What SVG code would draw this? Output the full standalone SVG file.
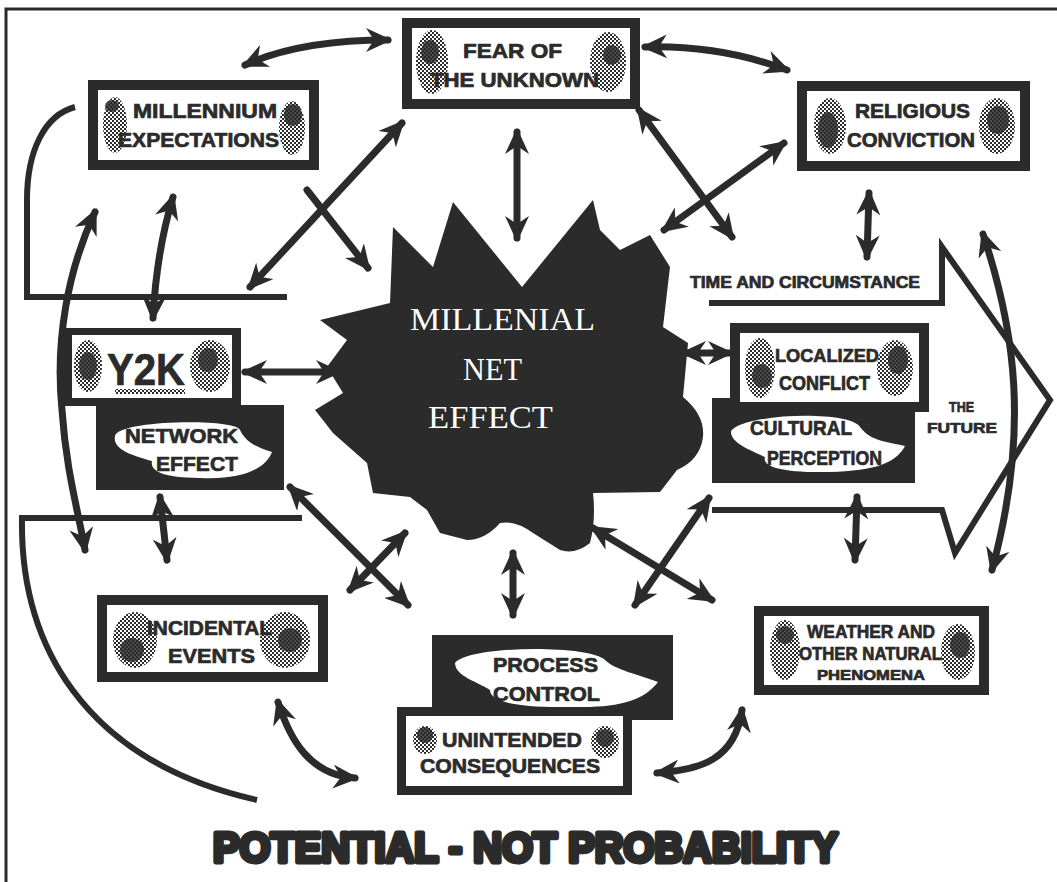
<svg xmlns="http://www.w3.org/2000/svg" width="1057" height="882" viewBox="0 0 1057 882">
<style>
.frame{fill:#2b2b2b}
.inner{fill:#fff}
.dark{fill:#2b2b2b}
.blob{fill:#fff}
.t{font-family:"Liberation Sans",Arial,sans-serif;font-weight:bold;fill:#2b2b2b;stroke:#2b2b2b;stroke-width:.7;stroke-linejoin:round}
.cap{stroke-width:5}
.bt{font-family:"Liberation Serif","Times New Roman",serif;fill:#fff}
.c{fill:none;stroke:#2b2b2b;stroke-width:7;stroke-linecap:round;stroke-linejoin:round}
.c2{marker-start:url(#ah);marker-end:url(#ah)}
.c1{marker-end:url(#ah)}
.line{fill:none;stroke:#2b2b2b;stroke-width:6;stroke-linejoin:miter}
.sm{fill:url(#dith)}
.smd{fill:#2b2b2b;opacity:.85}
</style>
<defs>
<pattern id="dith" width="4" height="4" patternUnits="userSpaceOnUse">
<rect width="2" height="2" fill="#2b2b2b"/><rect x="2" y="2" width="2" height="2" fill="#2b2b2b"/>
</pattern>
<marker id="ah" viewBox="0 0 26 24" refX="22" refY="12" markerWidth="26" markerHeight="24" markerUnits="userSpaceOnUse" orient="auto-start-reverse">
<path d="M0,0 L26,12 L0,24 L8,12 Z" fill="#2b2b2b"/>
</marker>
</defs>
<rect width="1057" height="882" fill="#fff"/>
<path d="M6,882 V9 H1057" fill="none" stroke="#2b2b2b" stroke-width="3"/>

<g id="burst">
<path class="dark" d="M320,320 L390,303 L393,227 L433,267 L453,202 L522,287 L593,200 L600,230 L620,250 L650,235 L670,267 L663,327 L688,343 L683,397 Q705,415 703,437 Q700,460 677,470 L660,492 L593,493 Q596,520 590,543 Q575,555 560,550 L533,533 Q515,520 500,523 Q485,540 467,540 L440,533 L427,510 L410,497 L373,493 L367,463 L333,433 L315,410 L343,393 L327,367 L347,340 Z"/>
<text class="bt" x="410" y="330" font-size="32" textLength="185" lengthAdjust="spacingAndGlyphs">MILLENIAL</text>
<text class="bt" x="463" y="380" font-size="32" textLength="59" lengthAdjust="spacingAndGlyphs">NET</text>
<text class="bt" x="428" y="428" font-size="32" textLength="125" lengthAdjust="spacingAndGlyphs">EFFECT</text>
</g>

<g id="time-arrow">
<path class="line" d="M709,303 H942 V247 L1050,400 L955,553 L942,510 H712"/>
<text class="t" x="690" y="288" font-size="16" textLength="230" lengthAdjust="spacingAndGlyphs">TIME AND CIRCUMSTANCE</text>
<text class="t" x="949" y="412" font-size="15" textLength="25" lengthAdjust="spacingAndGlyphs">THE</text>
<text class="t" x="927" y="433" font-size="15" textLength="70" lengthAdjust="spacingAndGlyphs">FUTURE</text>
</g>

<g id="connectors">
<path class="c c2" d="M245,65 Q300,40 388,40"/>
<path class="c c2" d="M645,47 Q720,45 787,70"/>
<path class="c c2" d="M402,123 L250,287"/>
<path class="c c1" d="M307,190 L368,268"/>
<path class="c c2" d="M517,132 L517,238"/>
<path class="c c2" d="M639,110 L732,237"/>
<path class="c c2" d="M784,143 L664,230"/>
<path class="c c2" d="M869,193 L867,257"/>
<path class="line" d="M287,297 H27 V200 C27,150 45,115 75,107"/>
<path class="c c2" d="M95,212 C68,270 55,340 62,410 C66,470 78,510 85,550"/>
<path class="c c2" d="M173,197 C160,240 155,280 153,318"/>
<path class="c c2" d="M245,372 L338,372"/>
<path class="c c2" d="M684,353 L730,353"/>
<path class="c c2" d="M160,497 L167,560"/>
<path class="line" d="M302,518 H22 C20,640 80,760 257,800"/>
<path class="c c2" d="M290,487 L408,605"/>
<path class="c c2" d="M405,533 L350,590"/>
<path class="c c2" d="M513,553 L513,615"/>
<path class="c c2" d="M593,528 L712,600"/>
<path class="c c2" d="M709,498 L635,605"/>
<path class="c c2" d="M857,497 L855,560"/>
<path class="c c2" d="M983,234 C1015,330 1030,430 992,570"/>
<path class="c c2" d="M278,702 C290,740 310,775 355,778"/>
<path class="c c2" d="M742,710 C735,760 700,770 657,773"/>
</g>

<g id="millennium">
<rect class="frame" x="88" y="80" width="231" height="90"/>
<rect class="inner" x="98" y="90" width="211" height="70"/>
<ellipse class="sm" cx="115" cy="125" rx="12" ry="28"/>
<ellipse class="smd" cx="112" cy="106" rx="7" ry="6"/>
<ellipse class="sm" cx="292" cy="128" rx="13" ry="27"/>
<ellipse class="smd" cx="293" cy="115" rx="9" ry="11"/>
<text class="t" x="133" y="118" font-size="20" textLength="144" lengthAdjust="spacingAndGlyphs">MILLENNIUM</text>
<text class="t" x="118" y="147" font-size="20" textLength="161" lengthAdjust="spacingAndGlyphs">EXPECTATIONS</text>
</g>

<g id="fear">
<rect class="frame" x="402" y="18" width="238" height="91"/>
<rect class="inner" x="412" y="28" width="218" height="71"/>
<ellipse class="sm" cx="432" cy="62" rx="16" ry="32"/>
<ellipse class="smd" cx="430" cy="52" rx="9" ry="12"/>
<ellipse class="sm" cx="608" cy="62" rx="18" ry="30"/>
<ellipse class="smd" cx="612" cy="55" rx="9" ry="10"/>
<text class="t" x="463" y="58" font-size="20" textLength="99" lengthAdjust="spacingAndGlyphs">FEAR OF</text>
<text class="t" x="430" y="87" font-size="20" textLength="169" lengthAdjust="spacingAndGlyphs">THE UNKNOWN</text>
</g>

<g id="religious">
<rect class="frame" x="797" y="81" width="233" height="90"/>
<rect class="inner" x="807" y="91" width="213" height="70"/>
<ellipse class="sm" cx="830" cy="126" rx="16" ry="28"/>
<ellipse class="smd" cx="828" cy="130" rx="10" ry="18"/>
<ellipse class="sm" cx="997" cy="126" rx="18" ry="28"/>
<ellipse class="smd" cx="998" cy="120" rx="11" ry="14"/>
<text class="t" x="855" y="118" font-size="21" textLength="115" lengthAdjust="spacingAndGlyphs">RELIGIOUS</text>
<text class="t" x="847" y="147" font-size="21" textLength="128" lengthAdjust="spacingAndGlyphs">CONVICTION</text>
</g>

<g id="network">
<rect class="dark" x="96" y="405" width="188" height="85"/>
<path class="blob" d="M115,436 C118,420 235,418 240,430 C245,440 252,446 272,452 C265,470 240,480 200,478 C160,478 150,470 152,461 C135,456 112,450 115,436 Z"/>
<text class="t" x="125" y="443" font-size="21" textLength="113" lengthAdjust="spacingAndGlyphs">NETWORK</text>
<text class="t" x="156" y="471" font-size="21" textLength="82" lengthAdjust="spacingAndGlyphs">EFFECT</text>
</g>

<g id="y2k">
<rect class="frame" x="62" y="328" width="179" height="78"/>
<rect class="inner" x="72" y="335" width="160" height="63"/>
<ellipse class="sm" cx="88" cy="366" rx="14" ry="26"/>
<ellipse class="smd" cx="88" cy="366" rx="9" ry="14"/>
<ellipse class="sm" cx="210" cy="366" rx="20" ry="26"/>
<ellipse class="smd" cx="208" cy="360" rx="10" ry="12"/>
<rect class="sm" x="115" y="389" width="70" height="5"/>
<text class="t" x="107" y="385" font-size="44" textLength="78" lengthAdjust="spacingAndGlyphs">Y2K</text>
</g>

<g id="cultural">
<rect class="dark" x="712" y="398" width="203" height="85"/>
<path class="blob" d="M731,431 C745,413 850,410 860,427 C870,440 882,441 905,446 C895,465 870,472 820,472 C780,472 762,466 765,457 C750,450 730,443 731,431 Z"/>
<text class="t" x="750" y="435" font-size="20" textLength="102" lengthAdjust="spacingAndGlyphs">CULTURAL</text>
<text class="t" x="767" y="465" font-size="21" textLength="115" lengthAdjust="spacingAndGlyphs">PERCEPTION</text>
</g>

<g id="localized">
<rect class="frame" x="730" y="323" width="199" height="89"/>
<rect class="inner" x="740" y="333" width="179" height="69"/>
<ellipse class="sm" cx="760" cy="368" rx="15" ry="30"/>
<ellipse class="smd" cx="762" cy="376" rx="10" ry="12"/>
<ellipse class="sm" cx="895" cy="368" rx="18" ry="28"/>
<ellipse class="smd" cx="898" cy="360" rx="10" ry="14"/>
<text class="t" x="775" y="362" font-size="19" textLength="104" lengthAdjust="spacingAndGlyphs">LOCALIZED</text>
<text class="t" x="779" y="390" font-size="20" textLength="91" lengthAdjust="spacingAndGlyphs">CONFLICT</text>
</g>

<g id="incidental">
<rect class="frame" x="97" y="595" width="231" height="87"/>
<rect class="inner" x="107" y="605" width="211" height="67"/>
<ellipse class="sm" cx="135" cy="640" rx="22" ry="28"/>
<ellipse class="smd" cx="132" cy="650" rx="12" ry="12"/>
<ellipse class="sm" cx="285" cy="640" rx="25" ry="28"/>
<ellipse class="smd" cx="290" cy="640" rx="12" ry="12"/>
<text class="t" x="147" y="635" font-size="21" textLength="125" lengthAdjust="spacingAndGlyphs">INCIDENTAL</text>
<text class="t" x="168" y="663" font-size="21" textLength="87" lengthAdjust="spacingAndGlyphs">EVENTS</text>
</g>

<g id="process">
<rect class="dark" x="432" y="635" width="241" height="85"/>
<path class="blob" d="M455,663 C470,645 590,645 605,660 C615,670 640,675 658,682 C640,705 610,708 560,707 C510,707 490,700 490,690 C478,682 455,676 455,663 Z"/>
<text class="t" x="493" y="672" font-size="20" textLength="105" lengthAdjust="spacingAndGlyphs">PROCESS</text>
<text class="t" x="493" y="701" font-size="21" textLength="107" lengthAdjust="spacingAndGlyphs">CONTROL</text>
</g>

<g id="unintended">
<rect class="frame" x="397" y="707" width="235" height="88"/>
<rect class="inner" x="406" y="716" width="217" height="70"/>
<ellipse class="sm" cx="425" cy="740" rx="12" ry="14"/>
<ellipse class="smd" cx="425" cy="735" rx="8" ry="8"/>
<ellipse class="sm" cx="605" cy="742" rx="14" ry="16"/>
<ellipse class="smd" cx="605" cy="738" rx="9" ry="9"/>
<text class="t" x="442" y="747" font-size="21" textLength="140" lengthAdjust="spacingAndGlyphs">UNINTENDED</text>
<text class="t" x="420" y="773" font-size="20" textLength="180" lengthAdjust="spacingAndGlyphs">CONSEQUENCES</text>
</g>

<g id="weather">
<rect class="frame" x="754" y="606" width="235" height="89"/>
<rect class="inner" x="764" y="616" width="215" height="69"/>
<ellipse class="sm" cx="785" cy="650" rx="15" ry="30"/>
<ellipse class="smd" cx="785" cy="635" rx="9" ry="9"/>
<ellipse class="sm" cx="958" cy="652" rx="17" ry="28"/>
<ellipse class="smd" cx="960" cy="645" rx="10" ry="13"/>
<text class="t" x="807" y="638" font-size="19" textLength="128" lengthAdjust="spacingAndGlyphs">WEATHER AND</text>
<text class="t" x="799" y="660" font-size="18" textLength="143" lengthAdjust="spacingAndGlyphs">OTHER NATURAL</text>
<text class="t" x="817" y="680" font-size="15" textLength="108" lengthAdjust="spacingAndGlyphs">PHENOMENA</text>
</g>

<g id="caption">
<text class="t cap" x="213" y="862" font-size="42" textLength="625" lengthAdjust="spacingAndGlyphs">POTENTIAL - NOT PROBABILITY</text>
</g>
</svg>
